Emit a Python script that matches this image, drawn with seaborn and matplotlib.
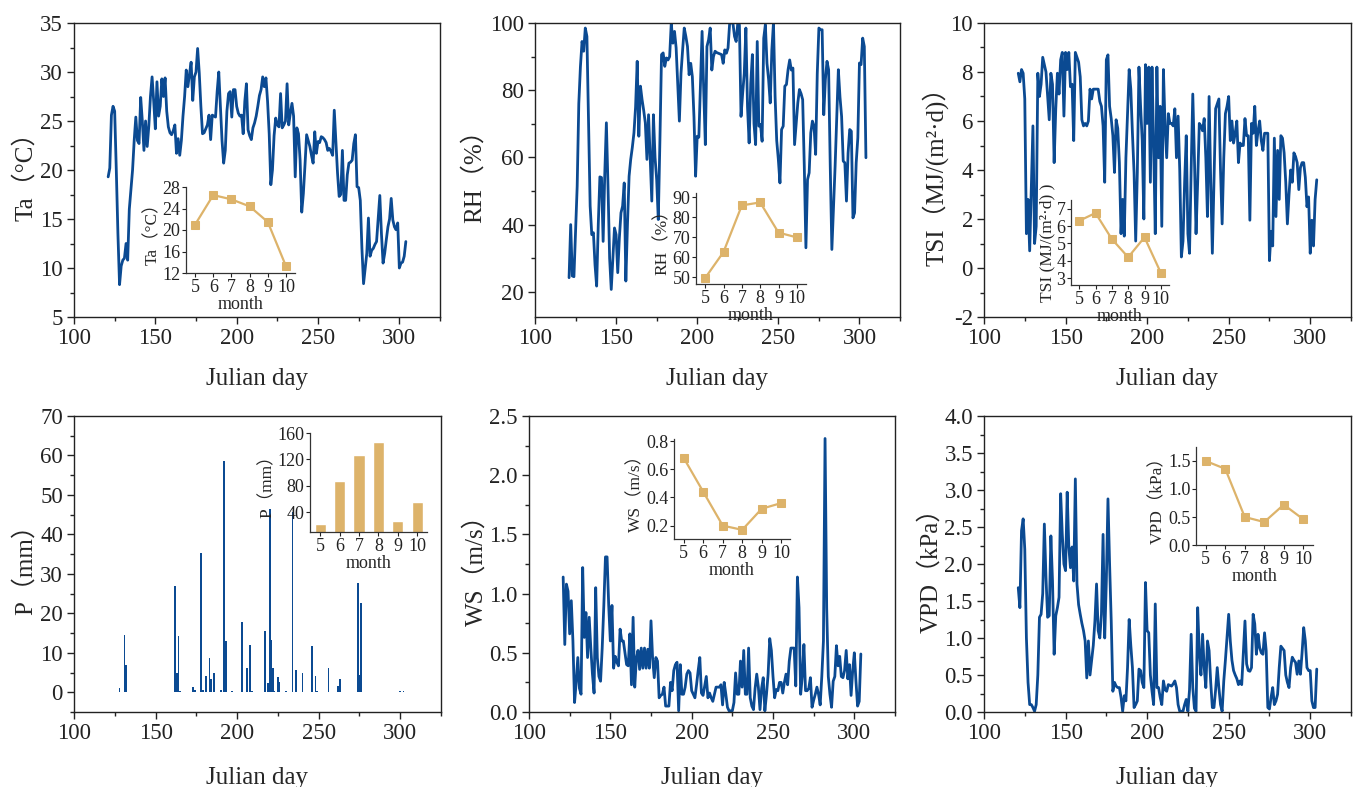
import matplotlib
matplotlib.use("Agg")
import matplotlib.pyplot as plt
import seaborn as sns
import pandas as pd
from matplotlib.ticker import MultipleLocator, FormatStrFormatter

# ---------------- data ----------------
days = list(range(121, 305))

ta = [19.3, 20.2, 25.6, 26.5, 26.0, 20.0, 13.5, 8.3, 10.2, 10.8,
      11.0, 12.5, 10.8, 16.0, 18.0, 20.0, 23.0, 25.4, 23.0, 22.7,
      27.4, 25.0, 22.0, 25.0, 22.4, 24.5, 27.5, 29.5, 27.0, 24.2,
      29.0, 25.5, 26.5, 29.3, 27.5, 29.4, 26.0, 24.4, 23.8, 23.6,
      24.0, 24.6, 21.7, 23.2, 21.5, 23.0, 25.5, 27.5, 30.2, 28.5,
      29.8, 31.0, 27.1, 29.5, 30.0, 32.4, 29.9, 26.5, 23.7, 23.8,
      24.2, 24.6, 25.6, 23.1, 25.6, 25.5, 25.4, 28.0, 30.0, 26.5,
      23.0, 20.7, 22.0, 26.0, 27.8, 28.0, 25.4, 28.2, 28.2, 26.5,
      25.8, 25.5, 25.6, 23.7, 27.0, 28.8, 24.1, 23.5, 23.1, 24.3,
      24.8, 25.5, 26.5, 27.6, 28.2, 29.5, 28.5, 29.4, 27.0, 23.7,
      18.5, 20.0, 23.5, 25.3, 24.6, 24.4, 27.8, 24.3, 24.6, 25.0,
      28.8, 24.6, 25.8, 26.8, 25.5, 19.3, 24.3, 23.7, 21.0, 15.7,
      17.6, 20.5, 23.6, 23.0, 22.4, 21.5, 20.7, 23.9, 21.7, 22.9,
      22.8, 23.4, 23.3, 23.1, 22.8, 22.0, 22.2, 21.9, 21.5, 26.1,
      23.0, 19.7, 17.3, 17.5, 22.0, 16.9, 16.9, 19.5, 20.7, 20.8,
      21.0, 22.7, 23.6, 18.3, 18.2, 16.9, 12.0, 8.4, 10.0, 11.5,
      15.1, 11.2, 11.8, 12.0, 12.4, 12.7, 15.0, 17.4, 13.5, 10.5,
      11.5, 12.9, 14.2, 15.0, 17.1, 14.9, 14.2, 13.9, 14.6, 10.0,
      10.5, 10.6, 11.2, 12.7]

rh = [24.2, 40.0, 24.7, 24.5, 38.0, 51.4, 76.0, 87.0, 94.5, 91.6,
      98.5, 96.0, 70.0, 45.5, 37.0, 37.6, 28.0, 21.7, 40.0, 54.2,
      54.0, 35.0, 55.0, 70.3, 51.4, 30.0, 20.7, 30.0, 39.0, 37.0,
      25.7, 36.0, 43.5, 45.5, 52.4, 23.2, 40.0, 54.4, 59.4, 63.0,
      67.3, 75.0, 88.6, 66.3, 81.2, 77.2, 74.0, 70.3, 59.4, 72.7,
      60.0, 47.0, 72.7, 60.0, 53.4, 41.5, 65.0, 90.6, 91.1, 87.1,
      89.6, 89.0, 90.0, 100.0, 94.0, 97.5, 92.6, 82.0, 70.8, 85.0,
      92.0, 98.5, 96.0, 93.0, 84.6, 88.0, 84.0, 72.0, 54.4, 66.3,
      66.0, 82.0, 97.5, 80.0, 63.8, 93.0, 95.0, 98.5, 86.0, 90.0,
      91.6, 91.2, 91.0, 90.8, 90.6, 88.0, 92.0, 91.0, 92.6, 100.0,
      100.0, 100.0, 96.0, 94.5, 100.0, 99.5, 72.2, 79.0, 85.0, 98.5,
      75.0, 64.3, 82.0, 90.6, 70.0, 63.8, 94.5, 69.3, 69.8, 64.8,
      95.5, 99.5, 88.0, 83.2, 76.2, 92.0, 100.0, 78.2, 65.0, 59.4,
      52.4, 68.3, 69.3, 81.2, 81.7, 86.1, 89.0, 86.0, 86.6, 63.8,
      70.0, 76.2, 80.2, 79.0, 77.2, 57.4, 33.1, 53.4, 55.4, 67.3,
      70.8, 69.3, 60.9, 85.0, 98.5, 98.0, 98.0, 72.7, 83.2, 88.6,
      86.1, 57.4, 32.6, 45.0, 57.4, 72.2, 86.1, 78.0, 72.2, 58.9,
      58.4, 47.0, 61.3, 68.3, 67.8, 42.0, 43.5, 58.4, 65.8, 88.1,
      87.6, 95.5, 93.0, 59.9]

tsi = [7.95, 7.6, 8.1, 7.95, 6.9, 1.4, 2.8, 0.7, 3.2, 5.8,
       1.0, 1.7, 7.95, 7.0, 7.5, 8.6, 8.3, 8.0, 7.0, 6.05,
       7.95, 7.5, 4.3, 6.5, 7.95, 7.1, 8.5, 8.8, 6.2, 8.8,
       8.1, 8.8, 7.4, 7.5, 5.2, 8.8, 8.6, 8.4, 7.8, 6.05,
       5.8, 5.9, 5.8, 6.0, 7.3, 6.9, 7.3, 7.3, 7.3, 7.3,
       6.8, 6.6, 5.8, 3.5, 8.5, 8.7, 6.6, 6.1, 5.4, 3.9,
       6.05, 5.7, 4.3, 1.4, 2.8, 1.3, 4.5, 6.3, 8.1, 7.3,
       5.5, 3.9, 1.1, 3.9, 8.2, 6.6, 5.2, 2.0, 8.3, 5.9,
       8.2, 3.5, 8.2, 5.0, 1.4, 8.2, 4.5, 6.6, 1.7, 8.1,
       5.8, 4.5, 6.3, 5.9, 5.9, 5.8, 6.5, 4.5, 6.2, 4.0,
       0.45, 1.1, 3.5, 5.4, 1.4, 0.6, 4.0, 7.1, 4.5, 1.4,
       3.5, 5.9, 5.8, 5.6, 6.1, 4.5, 2.1, 7.0, 3.5, 0.6,
       3.5, 6.5, 6.7, 6.9, 4.0, 1.8, 4.5, 6.3, 6.6, 7.0,
       5.2, 6.0, 5.1, 5.5, 6.0, 4.3, 5.1, 5.0, 5.0, 6.1,
       5.4, 5.4, 1.95, 5.9, 5.5, 6.6, 5.0, 5.6, 6.0, 5.2,
       4.8, 5.5, 5.5, 5.5, 0.3, 1.5, 0.9, 5.3, 2.1, 4.8,
       2.8, 5.4, 5.3, 4.7, 3.5, 1.8, 3.0, 4.0, 3.5, 4.7,
       4.55, 4.3, 3.2, 4.1, 4.3, 4.3, 3.7, 2.5, 2.9, 0.6,
       1.95, 0.9, 2.8, 3.6]

ws = [1.14, 0.57, 1.08, 1.02, 0.66, 0.94, 0.60, 0.08, 0.25, 0.46,
      0.20, 0.15, 1.22, 0.63, 0.84, 0.46, 0.80, 0.54, 0.32, 0.16,
      1.05, 0.46, 0.30, 0.26, 0.54, 0.90, 1.31, 1.31, 0.90, 0.60,
      0.90, 0.37, 0.47, 0.42, 0.39, 0.70, 0.60, 0.60, 0.50, 0.40,
      0.39, 0.66, 0.23, 0.80, 0.21, 0.45, 0.52, 0.36, 0.54, 0.37,
      0.54, 0.37, 0.53, 0.37, 0.77, 0.45, 0.29, 0.46, 0.43, 0.12,
      0.14, 0.15, 0.21, 0.05, 0.05, 0.05, 0.25, 0.18, 0.35, 0.40,
      0.42, 0.01, 0.40, 0.15, 0.15, 0.21, 0.32, 0.35, 0.33, 0.18,
      0.15, 0.12, 0.23, 0.35, 0.46, 0.16, 0.14, 0.22, 0.30, 0.12,
      0.16, 0.12, 0.09, 0.15, 0.21, 0.21, 0.21, 0.23, 0.06, 0.25,
      0.15, 0.04, 0.01, 0.01, 0.01, 0.08, 0.33, 0.15, 0.15, 0.43,
      0.21, 0.52, 0.15, 0.15, 0.54, 0.12, 0.05, 0.02, 0.20, 0.32,
      0.21, 0.02, 0.20, 0.29, 0.01, 0.15, 0.32, 0.62, 0.52, 0.30,
      0.12, 0.19, 0.18, 0.25, 0.25, 0.16, 0.25, 0.32, 0.23, 0.43,
      0.54, 0.54, 0.54, 0.22, 1.14, 0.88, 0.15, 0.30, 0.57, 0.18,
      0.18, 0.20, 0.29, 0.04, 0.10, 0.15, 0.21, 0.15, 0.06, 0.30,
      0.60, 2.31, 0.88, 0.30, 0.15, 0.04, 0.26, 0.30, 0.56, 0.39,
      0.47, 0.30, 0.29, 0.35, 0.52, 0.28, 0.40, 0.14, 0.35, 0.50,
      0.26, 0.05, 0.09, 0.49]

vpd = [1.68, 1.41, 2.45, 2.61, 2.20, 1.00, 0.40, 0.10, 0.10, 0.06,
       0.01, 0.10, 0.50, 1.28, 1.32, 1.60, 2.54, 1.82, 1.28, 1.30,
       2.38, 1.77, 0.78, 1.30, 1.41, 1.55, 2.95, 2.40, 2.00, 1.91,
       2.97, 2.23, 1.95, 2.23, 1.77, 3.15, 1.73, 1.45, 1.32, 1.20,
       1.10, 0.96, 0.46, 0.96, 0.50, 0.70, 0.90, 1.23, 1.73, 1.10,
       1.00, 1.32, 2.40, 1.00, 1.77, 2.88, 2.00, 1.23, 0.28, 0.40,
       0.35, 0.33, 0.33, 0.20, 0.01, 0.22, 0.15, 0.60, 1.25, 0.90,
       0.60, 0.06, 0.10, 0.15, 0.58, 0.56, 0.40, 0.33, 1.75, 1.10,
       1.07, 0.50, 0.28, 0.10, 1.46, 0.33, 0.33, 0.20, 0.10, 0.42,
       0.30, 0.28, 0.37, 0.36, 0.35, 0.38, 0.42, 0.33, 0.10, 0.01,
       0.01, 0.01, 0.10, 0.17, 0.01, 0.30, 1.05, 0.33, 0.05, 0.01,
       1.41, 0.80, 0.50, 1.05, 0.60, 0.33, 0.96, 0.83, 0.40, 0.06,
       0.06, 0.30, 0.60, 0.33, 0.10, 0.01, 0.42, 0.70, 1.00, 1.32,
       0.96, 0.70, 0.56, 0.50, 0.45, 0.37, 0.42, 0.37, 0.80, 1.23,
       0.65, 0.56, 0.55, 0.60, 1.32, 1.19, 0.78, 1.05, 0.87, 0.80,
       0.78, 1.07, 0.83, 0.06, 0.04, 0.20, 0.33, 0.10, 0.15, 0.24,
       0.60, 0.89, 0.86, 0.83, 0.50, 0.40, 0.33, 0.60, 0.74, 0.70,
       0.67, 0.51, 0.69, 0.51, 0.80, 1.14, 0.96, 0.60, 0.56, 0.56,
       0.15, 0.06, 0.06, 0.58]

p_days = [128, 131, 132, 162, 163, 164, 165, 173, 174, 178, 179, 181,
          183, 184, 186, 190, 192, 193, 197, 203, 206, 208, 209, 217,
          219, 220, 221, 222, 223, 225, 226, 230, 234, 236, 240, 246,
          248, 249, 256, 262, 263, 274, 275, 276, 300, 302]
p_vals = [1.0, 14.5, 6.8, 27.0, 4.9, 14.2, 0.4, 1.4, 0.7, 35.3, 0.6, 4.1,
          8.6, 3.3, 4.9, 0.5, 58.5, 12.9, 0.4, 17.8, 6.2, 12.0, 0.4, 15.6,
          2.4, 46.5, 13.3, 6.2, 0.4, 3.8, 2.7, 0.3, 45.6, 5.7, 4.9, 11.6,
          4.0, 0.4, 6.2, 1.7, 3.3, 27.7, 4.4, 22.7, 0.3, 0.3]

months = [5, 6, 7, 8, 9, 10]
ta_month = [21.0, 26.5, 25.7, 24.4, 21.5, 13.3]
rh_month = [49.5, 62.5, 85.8, 87.3, 72.2, 69.8]
tsi_month = [6.3, 6.75, 5.25, 4.2, 5.35, 3.3]
p_month = [22, 88, 126, 147, 26, 56]
ws_month = [0.68, 0.44, 0.20, 0.17, 0.32, 0.36]
vpd_month = [1.50, 1.36, 0.50, 0.41, 0.72, 0.46]

# ---------------- style ----------------
sns.set_style("ticks")
plt.rcParams['font.family'] = ['Liberation Serif', 'Noto Sans CJK SC']
plt.rcParams['axes.unicode_minus'] = False

BLUE = "#0B4A92"
TAN = "#DDB36A"
FIG_W, FIG_H = 1355, 787

fig = plt.figure(figsize=(FIG_W / 100, FIG_H / 100), dpi=100)


def box(l, t, r, b):
    return [l / FIG_W, 1 - b / FIG_H, (r - l) / FIG_W, (b - t) / FIG_H]


def style_main(ax, ylim, ymaj, ymin, ylabel, ylab_x, fmt=None, xlab_y=-0.175):
    ax.set_xlim(100, 325)
    ax.set_ylim(*ylim)
    ax.xaxis.set_major_locator(MultipleLocator(50))
    ax.xaxis.set_minor_locator(MultipleLocator(25))
    ax.yaxis.set_major_locator(MultipleLocator(ymaj))
    ax.yaxis.set_minor_locator(MultipleLocator(ymin))
    if fmt:
        ax.yaxis.set_major_formatter(FormatStrFormatter(fmt))
    ax.tick_params(which='major', direction='out', length=5, width=1,
                   labelsize=16.5, pad=3, colors='#222222')
    ax.tick_params(which='minor', direction='out', length=3, width=1, colors='#222222')
    for s in ax.spines.values():
        s.set_visible(True)
        s.set_linewidth(1.0)
        s.set_color('#222222')
    ax.set_xlabel("Julian day", fontsize=18)
    ax.xaxis.set_label_coords(0.5, xlab_y)
    ax.set_ylabel(ylabel, fontsize=18)
    ax.yaxis.set_label_coords(ylab_x, 0.5)


def style_inset(ax, xlim, ylim, yticks, ylabel, fmt=None):
    ax.set_xlim(*xlim)
    ax.set_ylim(*ylim)
    ax.set_xticks(months)
    ax.set_yticks(yticks)
    if fmt:
        ax.yaxis.set_major_formatter(FormatStrFormatter(fmt))
    ax.patch.set_alpha(0)
    ax.spines['top'].set_visible(False)
    ax.spines['right'].set_visible(False)
    for s in ('left', 'bottom'):
        ax.spines[s].set_linewidth(0.9)
        ax.spines[s].set_color('#333333')
    ax.tick_params(which='major', direction='out', length=3, width=0.8,
                   labelsize=13, pad=1, colors='#222222')
    ax.set_xlabel("month", fontsize=13, labelpad=0)
    ax.set_ylabel(ylabel, fontsize=12.5, labelpad=1)


def line_inset(rect, vals, xlim, ylim, yticks, ylabel, fmt=None):
    ins = fig.add_axes(rect)
    sns.lineplot(x=months, y=vals, ax=ins, color=TAN, linewidth=1.6,
                 marker='s', markersize=6, markeredgecolor=TAN)
    style_inset(ins, xlim, ylim, yticks, ylabel, fmt)
    return ins


# ---- Ta ----
ax1 = fig.add_axes(box(74, 23, 440, 317))
sns.lineplot(x=days, y=ta, ax=ax1, color=BLUE, linewidth=2.0)
style_main(ax1, (5, 35), 5, 2.5, "Ta（°C）", -0.102)
line_inset(box(186, 187, 295, 273), ta_month, (4.5, 10.5), (12, 28),
           [12, 16, 20, 24, 28], "Ta（°C）")

# ---- RH ----
ax2 = fig.add_axes(box(535, 23, 900, 317))
sns.lineplot(x=days, y=rh, ax=ax2, color=BLUE, linewidth=2.0)
style_main(ax2, (12.5, 100), 20, 10, "RH（%）", -0.136)
line_inset(box(696, 193, 806, 284), rh_month, (4.5, 10.5), (46.5, 92),
           [50, 60, 70, 80, 90], "RH（%）")

# ---- TSI ----
ax3 = fig.add_axes(box(984, 23, 1351, 317))
sns.lineplot(x=days, y=tsi, ax=ax3, color=BLUE, linewidth=2.0)
style_main(ax3, (-2, 10), 2, 1, "TSI（MJ/(m²·d)）", -0.097)
line_inset(box(1071, 200, 1169, 285), tsi_month, (4.5, 10.5), (2.6, 7.5),
           [3, 4, 5, 6, 7], "TSI (MJ/(m²·d) )")

# ---- P ----
ax4 = fig.add_axes(box(74, 416, 441, 712))
ax4.bar(p_days, p_vals, width=1.0, color=BLUE, linewidth=0)
style_main(ax4, (-5, 70), 10, 5, "P（mm）", -0.102, xlab_y=-0.185)
ins4 = fig.add_axes(box(310, 433, 427, 532))
sns.barplot(x=months, y=p_month, ax=ins4, color=TAN, native_scale=True,
            width=0.57, saturation=1, errorbar=None)
style_inset(ins4, (4.48, 10.5), (10, 160), [40, 80, 120, 160], "P（mm）")

# ---- WS ----
ax5 = fig.add_axes(box(529, 416, 895, 712))
sns.lineplot(x=days, y=ws, ax=ax5, color=BLUE, linewidth=2.0)
style_main(ax5, (0, 2.5), 0.5, 0.25, "WS（m/s）", -0.113, fmt='%.1f', xlab_y=-0.185)
line_inset(box(674, 439, 790, 539), ws_month, (4.5, 10.45), (0.105, 0.815),
           [0.2, 0.4, 0.6, 0.8], "WS（m/s）", fmt='%.1f')

# ---- VPD ----
ax6 = fig.add_axes(box(984, 416, 1351, 712))
sns.lineplot(x=days, y=vpd, ax=ax6, color=BLUE, linewidth=2.0)
style_main(ax6, (0, 4), 0.5, 0.25, "VPD（kPa）", -0.113, fmt='%.1f', xlab_y=-0.185)
line_inset(box(1196, 447, 1313, 545), vpd_month, (4.5, 10.5), (0, 1.75),
           [0.0, 0.5, 1.0, 1.5], "VPD（kPa）", fmt='%.1f')

fig.savefig("out.png", dpi=100)
